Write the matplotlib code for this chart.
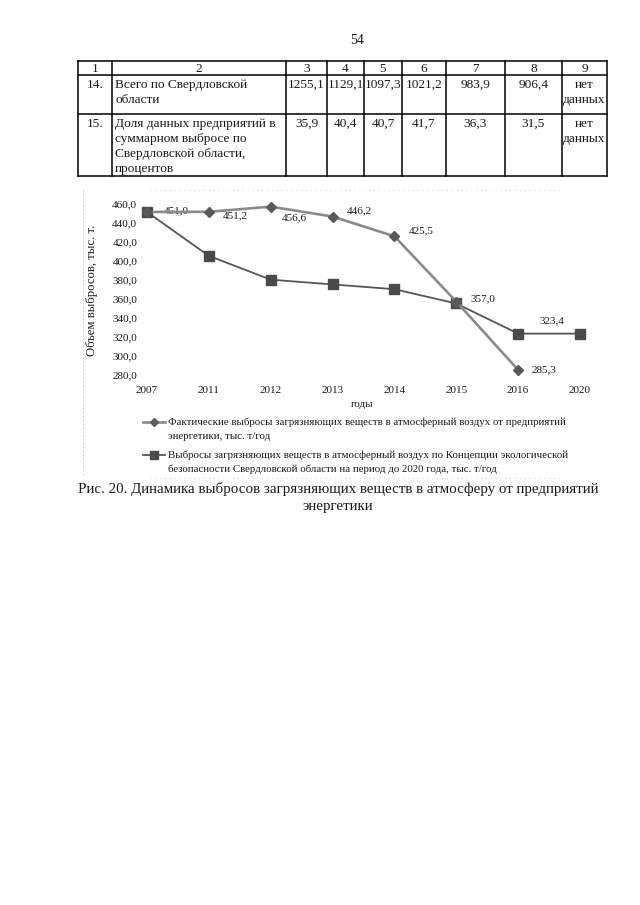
import matplotlib
matplotlib.use("Agg")
import matplotlib.pyplot as plt

plt.rcParams['font.family'] = ['Liberation Serif', 'DejaVu Serif']

# ---------------- data ----------------
page_number = "54"
table_header = ["1", "2", "3", "4", "5", "6", "7", "8", "9"]
row14_num = "14."
row14_name = "Всего по Свердловской\nобласти"
row14_values = ["1255,1", "1129,1", "1097,3", "1021,2", "983,9", "906,4", "нет\nданных"]
row15_num = "15."
row15_name = "Доля данных предприятий в\nсуммарном выбросе по\nСвердловской области,\nпроцентов"
row15_values = ["35,9", "40,4", "40,7", "41,7", "36,3", "31,5", "нет\nданных"]

years = ["2007", "2011", "2012", "2013", "2014", "2015", "2016", "2020"]
actual = [451.0, 451.2, 456.6, 446.2, 425.5, 357.0, 285.3]          # no 2020 value
concept = [451.0, 405.0, 380.0, 375.0, 370.0, 355.0, 323.4, 323.4]
actual_labels = ["451,0", "451,2", "456,6", "446,2", "425,5", "357,0", "285,3"]
concept_label = "323,4"

y_ticks = [280, 300, 320, 340, 360, 380, 400, 420, 440, 460]
y_label = "Объем выбросов, тыс. т."
x_label = "годы"
legend_actual = ["Фактические выбросы загрязняющих веществ в атмосферный воздух от предприятий",
                 "энергетики, тыс. т/год"]
legend_concept = ["Выбросы загрязняющих веществ в атмосферный воздух по Концепции экологической",
                  "безопасности Свердловской области на период до 2020 года, тыс. т/год"]
caption = "Рис. 20. Динамика выбросов загрязняющих веществ в атмосферу от предприятий\nэнергетики"

# ---------------- figure ----------------
W, H = 640, 905
fig = plt.figure(figsize=(W / 100, H / 100), dpi=100)
bg = fig.add_axes([0, 0, 1, 1])
bg.set_xlim(0, W)
bg.set_ylim(H, 0)
bg.axis('off')

txt = '#1a1a1a'
# page number
bg.text(357, 40, page_number, ha='center', va='center', fontsize=10, color=txt)

# table
col_x = [78, 112, 286, 327, 364, 402, 446, 505, 562, 607]
row_y = [61, 75, 114, 176]
for x in col_x:
    bg.plot([x, x], [row_y[0], row_y[-1]], color='black', lw=1.1)
for y in row_y:
    bg.plot([col_x[0], col_x[-1]], [y, y], color='black', lw=1.1)
tfs = 9.6
ls_tab = 1.32
for i, h in enumerate(table_header):
    bg.text((col_x[i] + col_x[i + 1]) / 2, 68.5, h, ha='center', va='center', fontsize=tfs, color=txt)
for num, name, vals, y0 in [(row14_num, row14_name, row14_values, row_y[1]),
                            (row15_num, row15_name, row15_values, row_y[2])]:
    bg.text((col_x[0] + col_x[1]) / 2, y0 + 4, num, ha='center', va='top', fontsize=tfs, color=txt,
            linespacing=ls_tab)
    bg.text(col_x[1] + 3, y0 + 4, name, ha='left', va='top', fontsize=tfs, color=txt,
            linespacing=ls_tab)
    for j, v in enumerate(vals):
        c = 2 + j
        bg.text((col_x[c] + col_x[c + 1]) / 2, y0 + 4, v, ha='center', va='top', fontsize=tfs,
                color=txt, linespacing=ls_tab)

# dotted chart-area border
bg.plot([83, 83], [190, 478], color='#b0b0b0', lw=0.7, ls=(0, (1, 3)))
bg.plot([150, 560], [190, 190], color='#c8c8c8', lw=0.7, ls=(0, (1, 4)))
bg.plot([150, 560], [478, 478], color='#c8c8c8', lw=0.7, ls=(0, (1, 4)))

# chart axes (pixel placement)
px_left, px_right = 140, 587
px_top, px_bottom = 203.4, 375.0
ax = fig.add_axes([px_left / W, 1 - px_bottom / H, (px_right - px_left) / W, (px_bottom - px_top) / H])
ax.patch.set_alpha(0)
n = len(years)
ax.set_xlim(-0.113, n - 1 + 0.113)
ax.set_ylim(280, 460)
for s in ax.spines.values():
    s.set_visible(False)
ax.set_yticks(y_ticks)
ax.set_yticklabels([f"{v},0" for v in y_ticks])
ax.set_xticks(range(n))
ax.set_xticklabels(years)
ax.tick_params(length=0, labelsize=8, colors=txt)
ax.tick_params(axis='y', pad=2)
ax.tick_params(axis='x', pad=8)

style_concept = dict(color='#555555', lw=1.3, marker='s', ms=7.5, mfc='#4a4a4a', mec='#4a4a4a')
style_actual = dict(color='#8a8a8a', lw=1.9, marker='D', ms=5, mfc='#5a5a5a', mec='#5a5a5a')

xa = list(range(len(actual)))
xc = list(range(len(concept)))
ax.plot(xc, concept, clip_on=False, zorder=3, **style_concept)
ax.plot(xa, actual, clip_on=False, zorder=4, **style_actual)

offsets = [(12, 1), (10, -3), (8, -8), (10, 4), (10, 4), (10, 2), (10, 0)]
for i, (v, lab) in enumerate(zip(actual, actual_labels)):
    ax.annotate(lab, (i, v), xytext=offsets[i], textcoords='offset points',
                ha='left', va='center', fontsize=8, color=txt)
ax.annotate(concept_label, (n - 1, concept[-1]), xytext=(-20, 9), textcoords='offset points',
            ha='center', va='center', fontsize=8, color=txt)

fig.text(92 / W, 1 - 290 / H, y_label, rotation=90, ha='center', va='center', fontsize=9.2, color=txt)
fig.text(362 / W, 1 - 404 / H, x_label, ha='center', va='center', fontsize=8, color=txt)

# legend (drawn manually for exact spacing)
leg_fs = 7.8
for lines, style, ytop in [(legend_actual, style_actual, 422), (legend_concept, style_concept, 455)]:
    s = dict(style)
    s['ms'] = s['ms'] * 0.85
    bg.plot([143, 154, 165], [ytop, ytop, ytop], markevery=[1], **s)
    for k, line in enumerate(lines):
        bg.text(168, ytop + 14 * k, line, ha='left', va='center', fontsize=leg_fs, color=txt)

fig.text(338 / W, 1 - 497.5 / H, caption, ha='center', va='center', fontsize=10.8, color=txt,
         linespacing=1.32)

fig.savefig("out.png", dpi=100)
